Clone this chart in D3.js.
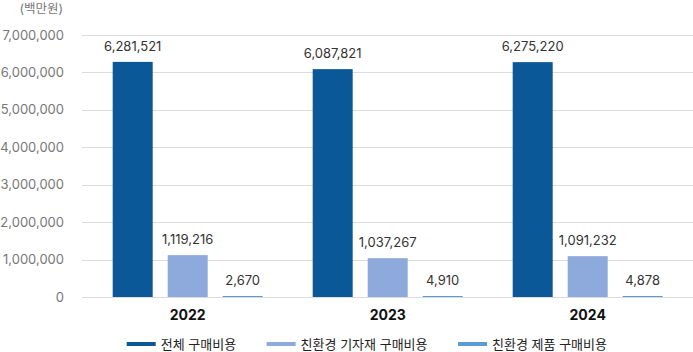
<!DOCTYPE html>
<html><head><meta charset="utf-8">
<script src="https://cdn.jsdelivr.net/npm/d3@7"></script>
<style>
html,body{margin:0;padding:0;background:#fff;}
text{font-family:Inter,"Noto Sans CJK KR",sans-serif;}
</style></head>
<body><svg id="c" width="693" height="352"></svg>
<script>
const years = ["2022","2023","2024"];
const seriesNames = ["전체 구매비용","친환경 기자재 구매비용","친환경 제품 구매비용"];
const totalCost = [6281521, 6087821, 6275220];
const equipCost = [1119216, 1037267, 1091232];
const productCost = [2670, 4910, 4878];
const yTicks = [0,1000000,2000000,3000000,4000000,5000000,6000000,7000000];
const colors = ["#0b5899","#8eaadc","#5b9bd5"];
const unitLabel = "(백만원)";

const series = [totalCost, equipCost, productCost];
const svg = d3.select("#c");
const y = d3.scaleLinear().domain([0,7000000]).range([297,35]);
const x0 = d3.scaleBand().domain(years).range([87.7,687.7]).padding(0);
const x1 = d3.scaleBand().domain(d3.range(3)).range([25, x0.bandwidth()-25]).paddingInner(15/55).paddingOuter(0);
const fmt = d3.format(",");

// grid
svg.append("g").selectAll("line").data(yTicks).join("line")
  .attr("x1",82).attr("x2",693)
  .attr("y1",d=>Math.round(y(d))+0.5).attr("y2",d=>Math.round(y(d))+0.5)
  .attr("stroke","#dcdcdc").attr("stroke-width",1);

// y labels
svg.append("g").selectAll("text").data(yTicks).join("text")
  .attr("x",64).attr("y",d=>y(d)+4.5).attr("text-anchor","end")
  .attr("font-size",13).attr("fill","#777").text(d=>fmt(d));

svg.append("text").attr("x",63).attr("y",13).attr("text-anchor","end")
  .attr("font-size",12.5).attr("fill","#777").text(unitLabel);

// bars
const groups = svg.append("g").selectAll("g").data(years).join("g")
  .attr("transform",d=>`translate(${x0(d)},0)`);
groups.each(function(yr,i){
  const g = d3.select(this);
  series.forEach((s,k)=>{
    const v = s[i];
    const top = y(v);
    const h = Math.max(1, y(0)-top);
    g.append("rect").attr("x",x1(k)).attr("width",x1.bandwidth())
      .attr("y",y(0)-h).attr("height",h).attr("fill",colors[k]);
    g.append("text").attr("x",x1(k)+x1.bandwidth()/2).attr("y",y(0)-h-11)
      .attr("text-anchor","middle").attr("font-size",13).attr("fill","#333").text(fmt(v));
  });
});

// x labels
svg.append("g").selectAll("text").data(years).join("text")
  .attr("x",d=>x0(d)+x0.bandwidth()/2).attr("y",320).attr("text-anchor","middle")
  .attr("font-size",14).attr("font-weight","bold").attr("fill","#111").text(d=>d);

// legend
let lx = 126.7;
seriesNames.forEach((n,k)=>{
  svg.append("rect").attr("x",lx).attr("y",342).attr("width",29).attr("height",4).attr("fill",colors[k]);
  const t = svg.append("text").attr("x",lx+34).attr("y",349).attr("font-size",13).attr("fill","#222").text(n);
  lx = lx + 34 + t.node().getComputedTextLength() + 30.5;
});
</script></body></html>
